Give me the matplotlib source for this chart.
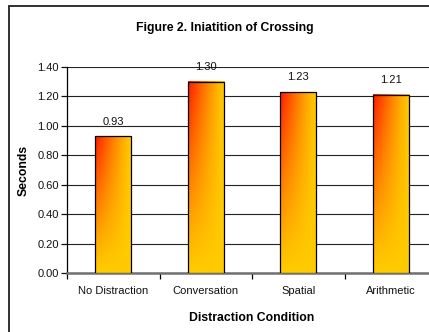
import numpy as np
import matplotlib
matplotlib.use("Agg")
import matplotlib.pyplot as plt
from matplotlib.patches import Rectangle
from matplotlib.ticker import FixedLocator, FormatStrFormatter

categories = ["No Distraction", "Conversation", "Spatial", "Arithmetic"]
values = [0.93, 1.30, 1.23, 1.21]
value_labels = ["0.93", "1.30", "1.23", "1.21"]
title = "Figure 2. Iniatition of Crossing"
xlabel = "Distraction Condition"
ylabel = "Seconds"

plt.rcParams['font.family'] = ['Liberation Sans', 'DejaVu Sans']

W, H = 429, 332
fig = plt.figure(figsize=(W / 100, H / 100), dpi=100)
fig.patch.set_facecolor('white')

# outer chart frame
fig.patches.append(Rectangle((9 / W, -0.1), 1.2, (H - 6) / H + 0.1, transform=fig.transFigure,
                             fill=False, edgecolor='#202020', linewidth=1.3, zorder=0))

ax = fig.add_axes([67 / W, 59 / H, 370 / W, 206 / H])
ax.set_facecolor('white')

bar_w = 0.39
x = np.arange(len(categories))

# gradient image
ny, nx = 200, 60
yf = np.linspace(0, 1, ny)[:, None]
xf = np.linspace(0, 1, nx)[None, :]
v = np.clip((1 - xf) ** 1.2 * yf ** 1.1, 0, 1)
red = np.array([255, 25, 0]) / 255
yel = np.array([255, 204, 0]) / 255
img = yel[None, None, :] + (red - yel)[None, None, :] * v[:, :, None]

for xi, val in zip(x, values):
    ax.imshow(img, extent=(xi - bar_w / 2, xi + bar_w / 2, 0, val), origin='lower',
              aspect='auto', zorder=3, interpolation='bilinear')
bars = ax.bar(x, values, width=bar_w, facecolor='none', edgecolor='black', linewidth=0.9, zorder=4)

for xi, val, lab in zip(x, values, value_labels):
    ax.annotate(lab, (xi, val), xytext=(0, 10.5), textcoords='offset points',
                ha='center', va='center', fontsize=8, color='#111111', zorder=5)

ax.set_xlim(-0.5, len(categories) - 0.5)
ax.set_ylim(0, 1.4)
ax.yaxis.set_major_locator(FixedLocator(np.arange(0, 1.41, 0.2)))
ax.yaxis.set_major_formatter(FormatStrFormatter('%.2f'))
ax.grid(axis='y', color='#222222', linewidth=0.8, zorder=1)
ax.set_axisbelow(True)

ax.set_xticks(x)
ax.set_xticklabels(categories)
ax.set_xticks(np.arange(-0.5, len(categories), 1.0), minor=True)
ax.tick_params(axis='x', which='major', length=0, pad=9, labelsize=8, colors='#111111')
ax.tick_params(axis='x', which='minor', length=4, width=0.9, color='black', direction='out')
ax.tick_params(axis='y', length=4, width=0.9, labelsize=8, colors='#111111', pad=2)

for s in ['top', 'right']:
    ax.spines[s].set_visible(False)
ax.spines['left'].set_color('black')
ax.spines['left'].set_linewidth(0.9)
ax.spines['bottom'].set_color('#707070')
ax.spines['bottom'].set_linewidth(1.8)

ax.set_xlabel(xlabel, fontsize=8.8, fontweight='bold', labelpad=12)
ax.set_ylabel(ylabel, fontsize=8.8, fontweight='bold', labelpad=5)
fig.text(225 / W, 1 - 28 / H, title, ha='center', va='center', fontsize=8.8, fontweight='bold')

fig.savefig("out.png", dpi=100)
